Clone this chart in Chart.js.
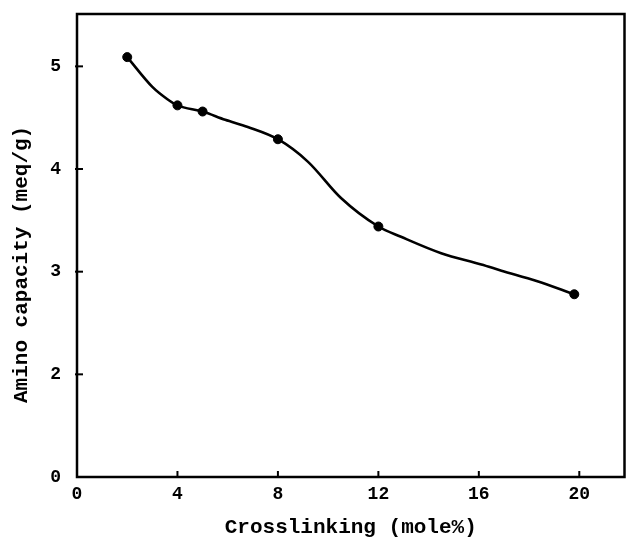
<!DOCTYPE html>
<html><head><meta charset="utf-8">
<script src="https://cdn.jsdelivr.net/npm/chart.js@4/dist/chart.umd.min.js"></script>
<style>html,body{margin:0;padding:0;background:#fff}#c{display:block}</style>
</head><body>
<canvas id="c" width="630" height="538"></canvas>
<script>
// measured points (crosslinking mole%, amino capacity meq/g)
const crosslinking = [2, 4, 5, 8, 12, 19.8];
const aminoCapacity = [5.09, 4.62, 4.56, 4.29, 3.44, 2.78];
// points
const curveX = [2, 3, 3.6, 4, 5, 5.9, 6.8, 8, 9.2, 10.5, 12, 12.9, 14.5, 16.1, 16.9, 18.3, 19.8];
const curveY = [5.09, 4.8, 4.68, 4.62, 4.56, 4.48, 4.41, 4.29, 4.07, 3.72, 3.44, 3.34, 3.18, 3.07, 3.01, 2.91, 2.78];
// axis ticks (y axis is broken: "0" sits where 1 would be)
const xTickValues = [0, 4, 8, 12, 16, 20];
const yTickValues = [1, 2, 3, 4, 5];
const yTickLabels = ['0', '2', '3', '4', '5'];

const FONT = "'Liberation Mono','DejaVu Sans Mono',monospace";

const framePlugin = {
  id: 'frame',
  afterDraw(chart) {
    const {ctx, chartArea: a, scales} = chart;
    ctx.save();
    ctx.strokeStyle = '#000';
    ctx.lineWidth = 2.5;
    ctx.strokeRect(a.left, a.top, a.right - a.left, a.bottom - a.top);
    ctx.lineWidth = 2;
    xTickValues.slice(1).forEach(v => {
      const px = scales.x.getPixelForValue(v);
      ctx.beginPath(); ctx.moveTo(px, a.bottom); ctx.lineTo(px, a.bottom - 6); ctx.stroke();
    });
    yTickValues.slice(1).forEach(v => {
      const py = scales.y.getPixelForValue(v);
      ctx.beginPath(); ctx.moveTo(a.left - 2, py); ctx.lineTo(a.left + 6, py); ctx.stroke();
    });
    ctx.restore();
  }
};

new Chart(document.getElementById('c'), {
  type: 'scatter',
  data: {
    datasets: [
      {
        data: curveX.map((x, i) => ({x, y: curveY[i]})),
        showLine: true, borderColor: '#000', borderWidth: 2.6,
        pointRadius: 0, cubicInterpolationMode: 'monotone', fill: false
      },
      {
        data: crosslinking.map((x, i) => ({x, y: aminoCapacity[i]})),
        showLine: false, pointRadius: 4.5, pointBackgroundColor: '#000',
        pointBorderColor: '#000', pointBorderWidth: 1
      }
    ]
  },
  options: {
    responsive: false, animation: false,
    layout: {padding: {top: 14, right: 3, bottom: 0, left: 0}},
    plugins: {legend: {display: false}, tooltip: {enabled: false}},
    scales: {
      x: {
        type: 'linear', min: 0, max: 21.8,
        afterBuildTicks: s => { s.ticks = xTickValues.map(v => ({value: v})); },
        afterFit: s => { s.height = 61; s.paddingLeft = 0; s.paddingRight = 0; },
        grid: {display: false, drawTicks: false},
        border: {display: false},
        ticks: {color: '#000', padding: 7, font: {family: FONT, size: 18, weight: 'bold'}, callback: v => String(v)},
        title: {display: true, text: 'Crosslinking (mole%)', color: '#000', padding: {top: 0, bottom: 0},
          font: {family: FONT, size: 21, weight: 'bold', lineHeight: 1.0}}
      },
      y: {
        type: 'linear', min: 1, max: 5.51,
        afterBuildTicks: s => { s.ticks = yTickValues.map(v => ({value: v})); },
        afterFit: s => { s.width = 77; s.paddingTop = 0; s.paddingBottom = 0; },
        grid: {display: false, drawTicks: false},
        border: {display: false},
        ticks: {color: '#000', padding: 16, font: {family: FONT, size: 18, weight: 'bold'},
          callback: v => yTickLabels[yTickValues.indexOf(v)]},
        title: {display: true, text: 'Amino capacity (meq/g)   ', color: '#000', padding: {top: 9, bottom: 0},
          font: {family: FONT, size: 21, weight: 'bold'}}
      }
    }
  },
  plugins: [framePlugin]
});
</script>
</body></html>
